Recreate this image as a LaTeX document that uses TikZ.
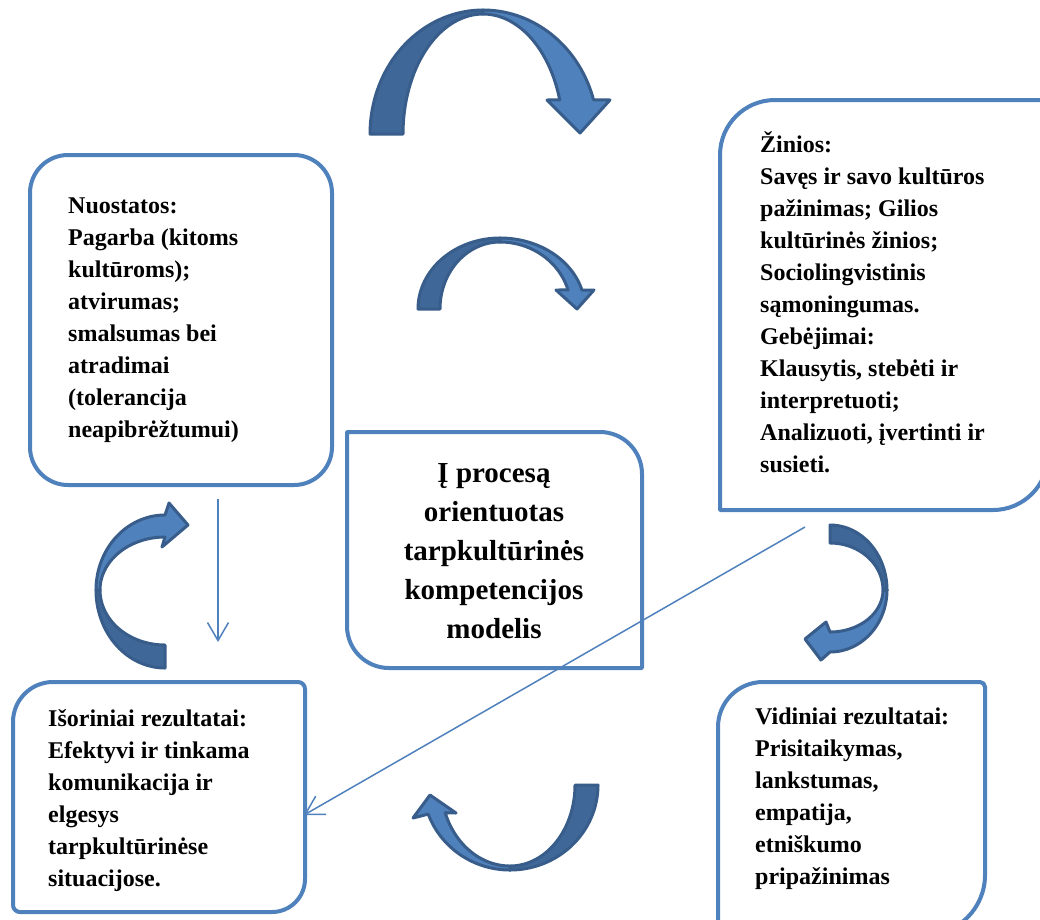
\documentclass[tikz,border=0pt]{standalone}
\usepackage{fontspec}
\setmainfont{Liberation Serif}
\usetikzlibrary{arrows.meta}
\definecolor{boxblue}{HTML}{4F81BD}
\definecolor{arrowlight}{HTML}{4F81BD}
\definecolor{arrowdark}{HTML}{3F6797}
\definecolor{arrowedge}{HTML}{385D8A}
\tikzset{
  frame/.style={draw=boxblue, line width=4pt, fill=white, line join=round},
  arrdark/.style={fill=arrowdark, draw=arrowedge, line width=3pt, line join=round},
  arrlight/.style={fill=arrowlight, draw=arrowedge, line width=3pt, line join=round},
  conn/.style={draw=boxblue, line width=1.5pt, -{Straight Barb[length=18pt,width=21pt]}},
  sidetext/.style={anchor=west, align=left, inner sep=0pt, font=\fontsize{24}{32}\selectfont\bfseries},
  centertext/.style={anchor=center, align=center, inner sep=0pt, font=\fontsize{29}{39}\selectfont\bfseries},
}
% x0 y0 x1 y1 rTL rTR rBR rBL
\newcommand\roundframe[8]{%
 \draw[frame] ({#1+#5},#2) -- ({#3-#6},#2)
   .. controls ({#3-0.4477*#6},#2) and (#3,{#2+0.4477*#6}) .. (#3,{#2+#6})
   -- (#3,{#4-#7})
   .. controls (#3,{#4-0.4477*#7}) and ({#3-0.4477*#7},#4) .. ({#3-#7},#4)
   -- ({#1+#8},#4)
   .. controls ({#1+0.4477*#8},#4) and (#1,{#4-0.4477*#8}) .. (#1,{#4-#8})
   -- (#1,{#2+#5})
   .. controls (#1,{#2+0.4477*#5}) and ({#1+0.4477*#5},#2) .. ({#1+#5},#2) -- cycle;}
\begin{document}
\begin{tikzpicture}[x=1pt,y=-1pt]
\useasboundingbox[fill=white] (0,0) rectangle (1040,919);

% frames
\roundframe{30}{155}{332}{485}{38}{38}{38}{38}
\roundframe{720}{100}{1048}{510}{55}{0.5}{55}{0.5}
\roundframe{347}{432}{642}{668}{0.5}{42}{0.5}{42}
\roundframe{13}{682}{305}{912}{40}{7}{33}{7}
\roundframe{718}{682}{985}{935}{45}{5}{60}{5}

% texts
\node[sidetext] (nuo) at (68,320) {Nuostatos:\\Pagarba (kitoms\\kultūroms);\\atvirumas;\\smalsumas bei\\atradimai\\(tolerancija\\neapibrėžtumui)};
\node[sidetext] (zin) at (760,302) {Žinios:\\Savęs ir savo kultūros\\pažinimas; Gilios\\kultūrinės žinios;\\Sociolingvistinis\\sąmoningumas.\\Gebėjimai:\\Klausytis, stebėti ir\\interpretuoti;\\Analizuoti, įvertinti ir\\susieti.};
\node[centertext] (mod) at (494,551) {Į procesą\\orientuotas\\tarpkultūrinės\\kompetencijos\\modelis};
\node[sidetext] (iso) at (48,801) {Išoriniai rezultatai:\\Efektyvi ir tinkama\\komunikacija ir\\elgesys\\tarpkultūrinėse\\situacijose.};
\node[sidetext] (vid) at (755,799) {Vidiniai rezultatai:\\Prisitaikymas,\\lankstumas,\\empatija,\\etniškumo\\pripažinimas};

% curved block arrows
% A (top)
\path[arrdark] plot[domain=180:270,samples=40] ({483+113*cos(\x)},{134+124*sin(\x)})
  -- plot[domain=270:180,samples=40] ({483+80*cos(\x)},{134+120*sin(\x)}) -- cycle;
\path[arrlight] plot[domain=270:344,samples=40] ({483+115*cos(\x)},{134+124*sin(\x)})
  -- (610,100) -- (580,133) -- (547,100)
  -- plot[domain=343.5:270,samples=40] ({483+80*cos(\x)},{134+120*sin(\x)}) -- cycle;
% B (middle)
\path[arrdark] plot[domain=180:270,samples=40] ({500+82*cos(\x)},{309+71*sin(\x)})
  -- plot[domain=270:180,samples=40] ({500+60*cos(\x)},{309+67*sin(\x)}) -- cycle;
\path[arrlight] plot[domain=270:344.5,samples=40] ({500+85*cos(\x)},{309+71*sin(\x)})
  -- (594,290) -- (577,309) -- (556,290)
  -- plot[domain=343.5:270,samples=40] ({500+71*cos(\x)},{309+67*sin(\x)}) -- cycle;
% C (left)
\path[arrdark] plot[domain=90:180,samples=40] ({165+69*cos(\x)},{590+78*sin(\x)})
  -- plot[domain=180:90,samples=40] ({165+65*cos(\x)},{590+55*sin(\x)}) -- cycle;
\path[arrlight] plot[domain=180:270,samples=40] ({165+69*cos(\x)},{590+75*sin(\x)})
  -- (169,503) -- (188,525) -- (162,547)
  -- plot[domain=270:180,samples=40] ({165+65*cos(\x)},{590+53*sin(\x)}) -- cycle;
% D (right)
\path[arrdark] plot[domain=270:360,samples=40] ({830+57*cos(\x)},{590+65*sin(\x)})
  -- plot[domain=360:270,samples=40] ({830+53*cos(\x)},{590+47*sin(\x)}) -- cycle;
\path[arrlight] plot[domain=0:90,samples=40] ({830+57*cos(\x)},{590+62*sin(\x)})
  -- (821,660) -- (805,639) -- (826,622)
  -- plot[domain=90:0,samples=40] ({830+53*cos(\x)},{590+42*sin(\x)}) -- cycle;
% E (bottom)
\path[arrdark] plot[domain=0:90,samples=40] ({510+88*cos(\x)},{785+85*sin(\x)})
  -- plot[domain=90:0,samples=40] ({510+65*cos(\x)},{785+81*sin(\x)}) -- cycle;
\path[arrlight] plot[domain=90:160,samples=40] ({510+87*cos(\x)},{785+85*sin(\x)})
  -- (413,818) -- (430,795) -- (456,813)
  -- plot[domain=160:90,samples=40] ({510+69*cos(\x)},{785+81*sin(\x)}) -- cycle;

% thin connectors
\coordinate (v1) at (218,499);
\coordinate (v2) at (218,642);
\draw[conn] (v1) -- (v2);
\coordinate (d1) at (805,527);
\coordinate (d2) at (304,815);
\draw[conn] (d1) -- (d2);
\end{tikzpicture}
\end{document}
